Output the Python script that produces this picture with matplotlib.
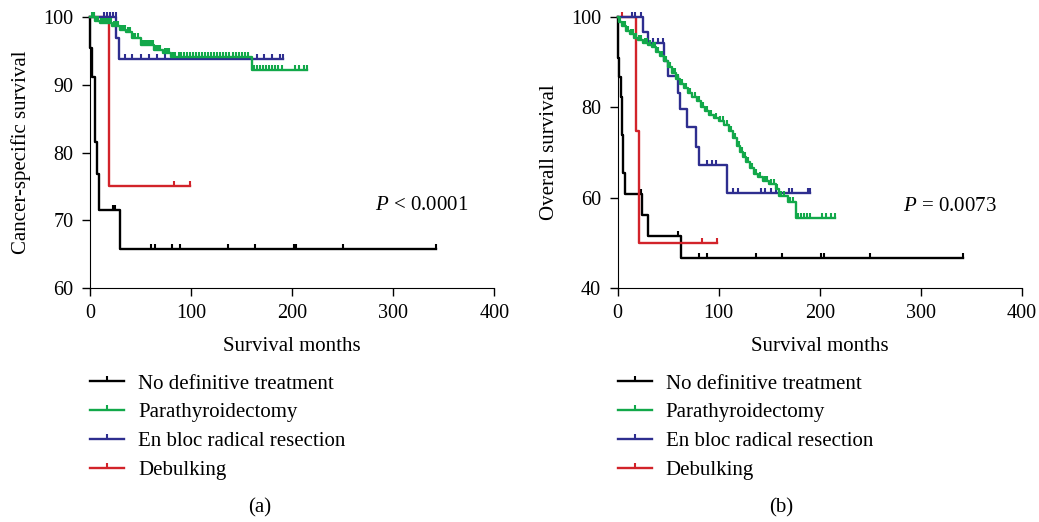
import numpy as np
import matplotlib
matplotlib.use("Agg")
import matplotlib.pyplot as plt
from matplotlib.lines import Line2D

plt.rcParams['font.family'] = ['Liberation Serif', 'DejaVu Serif']
plt.rcParams['mathtext.fontset'] = 'custom'
plt.rcParams['mathtext.rm'] = 'Liberation Serif'
plt.rcParams['mathtext.it'] = 'Liberation Serif:italic'
plt.rcParams['font.size'] = 15

groups = ["No definitive treatment", "Parathyroidectomy",
          "En bloc radical resection", "Debulking"]
colors = ["#000000", "#12a84a", "#2e2e8f", "#d2232a"]

# ---------------- (a) cancer-specific survival ----------------
css_none_t = [0, 0.3, 2, 4.5, 7, 9, 29.5]
css_none_s = [100, 95.5, 91.2, 81.5, 76.8, 71.5, 65.7]
css_none_cens = [23, 25, 60, 64, 81, 89, 137, 163, 202, 204, 250, 342]

css_para_t = [0, 5, 10, 22, 30, 36, 42, 50, 63, 72, 80, 86, 160]
css_para_s = [100, 99.5, 99.1, 98.7, 98.1, 97.8, 97.0, 95.9, 95.2, 94.7, 94.1, 94.1, 92.2]
css_para_cens = [2, 4, 6, 8, 11, 13, 15, 17, 19, 21, 24, 26, 28, 31, 33, 35, 38, 40,
                 43, 45, 47, 52, 54, 56, 58, 60, 62, 65, 67, 69, 74, 76, 78, 82, 84,
                 88, 90, 93, 96, 99, 102, 105, 108, 111, 114, 117, 120, 123, 126, 129,
                 132, 135, 138, 141, 144, 147, 150, 153, 156, 162, 165, 168, 171, 174,
                 177, 180, 183, 186, 190, 203, 207, 212, 215]

css_bloc_t = [0, 26, 29]
css_bloc_s = [100, 96.9, 93.8]
css_bloc_cens = [14, 16.5, 20, 23, 25.5, 35, 42, 50, 58, 66, 74, 165, 172, 180, 188, 190.5]

css_debulk_t = [0, 19]
css_debulk_s = [100, 75]
css_debulk_cens = [4, 83, 98.5]

# ---------------- (b) overall survival ----------------
os_none_t = [0, 0.3, 1.6, 3.3, 4.3, 5.6, 7.6, 23.7, 30, 62.6]
os_none_s = [100, 90.9, 86.8, 82.4, 73.9, 65.4, 60.7, 56.1, 51.5, 46.5]
os_none_cens = [22.7, 59.3, 80.7, 88.6, 136.5, 162.2, 201.1, 204.4, 250, 342]

os_para_t = [0, 1.5, 4, 8, 12, 16, 20, 25, 30, 34, 38, 42, 46, 50, 54, 58, 62, 66,
             70, 74, 78, 82, 86, 90, 95, 100, 105, 110, 114, 118, 121, 124, 127, 131,
             135, 139, 144, 150, 157, 160, 168, 176.5]
os_para_s = [100, 98.9, 98.0, 97.0, 96.3, 95.5, 94.9, 94.4, 93.9, 93.3, 92.3, 91.4,
             90.2, 89.0, 87.7, 86.3, 85.3, 84.3, 83.3, 82.3, 81.4, 80.2, 79.2, 78.4,
             77.6, 77.0, 76.1, 74.7, 73.2, 71.5, 70.2, 68.9, 67.8, 66.5, 65.3, 64.5,
             63.7, 63.0, 62.0, 60.3, 59.0, 55.4]
os_para_cens = [2, 5, 7, 10, 13, 15, 18, 21, 23, 27, 29, 32, 35, 37, 40, 44, 48, 52,
                55, 57, 60, 64, 68, 72, 76, 80, 84, 88, 92, 97, 101, 104, 108, 112,
                116, 120, 123, 126, 129, 133, 137, 141, 146, 148, 152, 155, 158, 162,
                165, 170, 173, 178, 181, 184, 187, 190, 202, 206, 211, 215]

os_bloc_t = [0, 25.5, 30, 46, 50, 60, 62, 69, 77, 80, 108]
os_bloc_s = [100, 96.8, 94.2, 90.3, 87.0, 83.3, 79.6, 75.7, 71.3, 67.3, 61.1]
os_bloc_cens = [14, 17, 23, 35, 40, 45, 88, 93, 97, 114, 119, 142, 146, 152, 157,
                169, 172, 188.6, 190]

os_debulk_t = [0, 18, 21.4]
os_debulk_s = [100, 74.8, 50]
os_debulk_cens = [4, 83, 98]

panels = [
    dict(curves=[(css_none_t, css_none_s, css_none_cens),
                 (css_para_t, css_para_s, css_para_cens),
                 (css_bloc_t, css_bloc_s, css_bloc_cens),
                 (css_debulk_t, css_debulk_s, css_debulk_cens)],
         ylabel="Cancer-specific survival", ylim=(60, 100),
         yticks=[60, 70, 80, 90, 100], ptext="$P$ < 0.0001", py=72.1,
         left=90, tag="(a)", tagx=260, labx=-0.145),
    dict(curves=[(os_none_t, os_none_s, os_none_cens),
                 (os_para_t, os_para_s, os_para_cens),
                 (os_bloc_t, os_bloc_s, os_bloc_cens),
                 (os_debulk_t, os_debulk_s, os_debulk_cens)],
         ylabel="Overall survival", ylim=(40, 100),
         yticks=[40, 60, 80, 100], ptext="$P$ = 0.0073", py=58.1,
         left=617.7, tag="(b)", tagx=781, labx=-0.145),
]

W, H = 1039, 522
tick_mark = [(0, 0), (0, 1)]

fig = plt.figure(figsize=(W / 100, H / 100), dpi=100)

for p in panels:
    ax = fig.add_axes([p["left"] / W, (H - 287.7) / H, 404.3 / W, 270.4 / H])
    # green drawn last, as in the reference
    order = [0, 3, 2, 1]
    for i in order:
        t, s, cens = p["curves"][i]
        t = np.array(t, dtype=float)
        s = np.array(s, dtype=float)
        cens = np.array(cens, dtype=float)
        tt = np.append(t, cens.max())
        ss = np.append(s, s[-1])
        ax.step(tt, ss, where="post", color=colors[i], lw=1.7, clip_on=False, zorder=3)
        idx = np.searchsorted(t, cens, side="right") - 1
        ax.plot(cens, s[idx], ls="none", marker=tick_mark, ms=6.5, mew=1.5,
                color=colors[i], clip_on=False, zorder=3)

    ax.set_xlim(0, 400)
    ax.set_ylim(*p["ylim"])
    ax.set_xticks([0, 100, 200, 300, 400])
    ax.set_yticks(p["yticks"])
    for sp in ["top", "right"]:
        ax.spines[sp].set_visible(False)
    ax.tick_params(direction="out", length=6, width=1, labelsize=14.5)
    ax.tick_params(axis="x", pad=6)
    ax.tick_params(axis="y", pad=6)
    ax.set_xlabel("Survival months", fontsize=15)
    ax.xaxis.set_label_coords(0.5, -0.182)
    ax.set_ylabel(p["ylabel"], fontsize=15)
    ax.yaxis.set_label_coords(p["labx"], 0.5)
    ax.text(282, p["py"], p["ptext"], fontsize=15, va="center", ha="left")

    handles = [Line2D([], [], color=c, lw=1.7, marker=tick_mark, ms=6.5, mew=1.5)
               for c in colors]
    ax.legend(handles, groups, loc="upper left", bbox_to_anchor=(0.0, -0.319),
              frameon=False, borderaxespad=0, borderpad=0, handlelength=1.65,
              handletextpad=0.65, labelspacing=0.45, numpoints=1, fontsize=15)

    fig.text(p["tagx"] / W, 1 - 508 / H, p["tag"], ha="center", va="center", fontsize=15)

fig.savefig("out.png", dpi=100)
